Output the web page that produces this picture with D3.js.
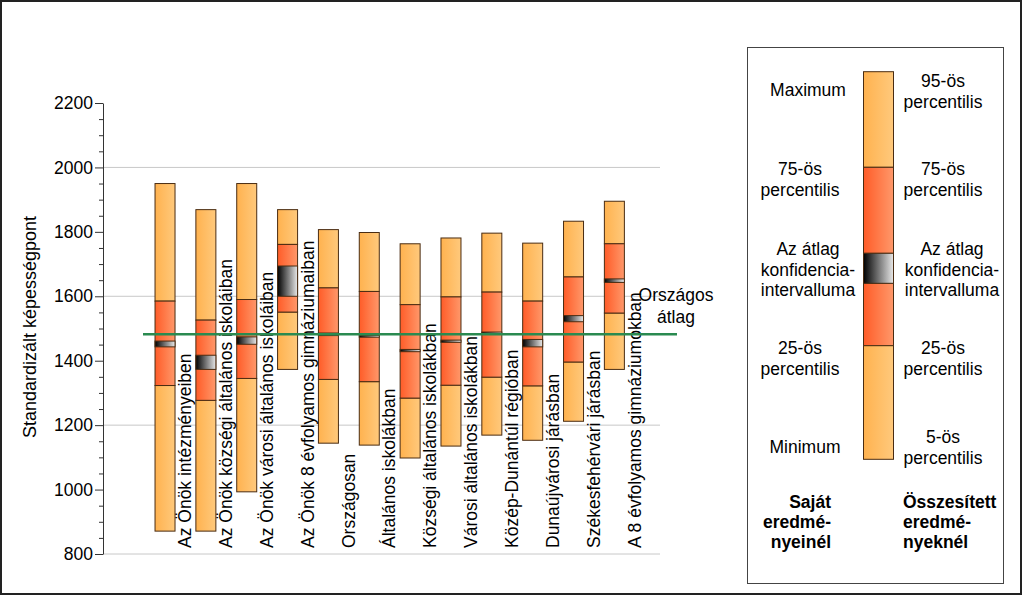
<!DOCTYPE html>
<html>
<head>
<meta charset="utf-8">
<script src="https://cdn.jsdelivr.net/npm/d3@7"></script>
<style>
  html, body { margin: 0; padding: 0; background: #fff; }
  svg { display: block; font-family: "Liberation Sans", Arial, sans-serif; }
</style>
</head>
<body>
<svg id="chart" width="1024" height="597"></svg>
<script>
// ---- data ----
const categories = [
  "Az Önök intézményeiben",
  "Az Önök községi általános iskoláiban",
  "Az Önök városi általános iskoláiban",
  "Az Önök 8 évfolyamos gimnáziumaiban",
  "Országosan",
  "Általános iskolákban",
  "Községi általános iskolákban",
  "Városi általános iskolákban",
  "Közép-Dunántúl régióban",
  "Dunaújvárosi járásban",
  "Székesfehérvári járásban",
  "A 8 évfolyamos gimnáziumokban"
];
const minVals = [871, 871, 993, 1373, 1144, 1138, 1098, 1135, 1169, 1153, 1212, 1373];
const p25Vals = [1323, 1277, 1345, 1551, 1342, 1335, 1284, 1324, 1349, 1322, 1396, 1548];
const p75Vals = [1585, 1526, 1590, 1761, 1626, 1615, 1574, 1598, 1613, 1585, 1660, 1763];
const maxVals = [1950, 1869, 1950, 1869, 1807, 1798, 1763, 1781, 1796, 1765, 1833, 1895];
const ciLow   = [1443, 1373, 1451, 1600, 1478, 1473, 1428, 1457, 1483, 1443, 1521, 1643];
const ciHigh  = [1461, 1417, 1474, 1694, 1486, 1479, 1435, 1464, 1489, 1466, 1540, 1654];
const nationalMean = 1482;
const majorTicks = [800, 1000, 1200, 1400, 1600, 1800, 2000, 2200];
const gridTicks = [800, 1200, 1600, 2000];
const yTitle = "Standardizált képességpont";
const meanLabel = ["Országos", "átlag"];
const legendLeft = [
  {lines: ["Maximum"], y: 96, x: 808},
  {lines: ["75-ös", "percentilis"], y: 175, x: 800},
  {lines: ["Az átlag", "konfidencia-", "intervalluma"], y: 255, x: 808},
  {lines: ["25-ös", "percentilis"], y: 354, x: 800},
  {lines: ["Minimum"], y: 453, x: 805}
];
const legendRight = [
  {lines: ["95-ös", "percentilis"], y: 87, x: 943},
  {lines: ["75-ös", "percentilis"], y: 175, x: 943},
  {lines: ["Az átlag", "konfidencia-", "intervalluma"], y: 255, x: 952},
  {lines: ["25-ös", "percentilis"], y: 354, x: 943},
  {lines: ["5-ös", "percentilis"], y: 443, x: 943}
];
const legendBoldLeft = ["Saját", "eredmé-", "nyeinél"];
const legendBoldRight = ["Összesített", "eredmé-", "nyeknél"];

// ---- setup ----
const svg = d3.select("#chart");
const FONT = 17.5;

const defs = svg.append("defs");
function grad(id, c0, c1) {
  const g = defs.append("linearGradient").attr("id", id)
    .attr("x1", "0%").attr("x2", "100%").attr("y1", "0%").attr("y2", "0%");
  g.append("stop").attr("offset", "0%").attr("stop-color", c0);
  g.append("stop").attr("offset", "100%").attr("stop-color", c1);
}
grad("gLight", "#ffb24f", "#ffc97c");
grad("gRed", "#ff5c28", "#ff986a");
grad("gCI", "#000000", "#e8e8e8");

// outer frame
svg.append("rect").attr("x", 1).attr("y", 1).attr("width", 1020).attr("height", 593)
  .attr("fill", "none").attr("stroke", "#222").attr("stroke-width", 2);

const y = d3.scaleLinear().domain([800, 2200]).range([554, 103]);
const x = d3.scaleBand().domain(categories).range([144.6, 634.8]).paddingInner(0.51).paddingOuter(0.255);
const bw = 20;
const cx = d => x(d) + x.bandwidth() / 2;

// gridlines
svg.append("g").selectAll("line").data(gridTicks).join("line")
  .attr("x1", 103).attr("x2", 660)
  .attr("y1", d => y(d)).attr("y2", d => y(d))
  .attr("stroke", "#c8c8c8").attr("stroke-width", 1);

// axis
const axisG = svg.append("g").attr("transform", "translate(103,0)");
axisG.call(d3.axisLeft(y).tickValues(d3.range(800, 2201, 50)).tickSize(4).tickSizeOuter(0).tickFormat(""));
axisG.selectAll(".tick").filter(d => d % 200 === 0).remove();
const axisMajor = svg.append("g").attr("transform", "translate(103,0)");
axisMajor.call(d3.axisLeft(y).tickValues(majorTicks).tickSize(8).tickSizeOuter(0).tickPadding(2).tickFormat(d3.format("d")));
axisMajor.select(".domain").remove();
svg.selectAll(".domain").attr("stroke", "#333");
svg.selectAll(".tick line").attr("stroke", "#333");
axisMajor.selectAll("text").attr("font-size", FONT).attr("fill", "#000")
  .attr("font-family", "Liberation Sans, Arial, sans-serif");

// y title
svg.append("text")
  .attr("transform", `translate(30,${327}) rotate(-90)`)
  .attr("text-anchor", "middle").attr("dy", "0.35em")
  .attr("font-size", 18).text(yTitle);

// bars
const rows = categories.map((c, i) => ({
  c, min: minVals[i], p25: p25Vals[i], p75: p75Vals[i], max: maxVals[i], lo: ciLow[i], hi: ciHigh[i]
}));
const STROKE = "#4a2c12";
const bars = svg.append("g").selectAll("g").data(rows).join("g");
function seg(sel, a, b, fill) {
  sel.append("rect")
    .attr("x", d => cx(d.c) - bw / 2).attr("width", bw)
    .attr("y", d => y(b(d))).attr("height", d => Math.max(1, y(a(d)) - y(b(d))))
    .attr("fill", fill).attr("stroke", STROKE).attr("stroke-width", 1);
}
seg(bars, d => d.min, d => d.p25, "url(#gLight)");
seg(bars, d => d.p75, d => d.max, "url(#gLight)");
seg(bars, d => d.p25, d => d.p75, "url(#gRed)");
seg(bars, d => d.lo, d => d.hi, "url(#gCI)");

// category labels
svg.append("g").selectAll("text").data(categories).join("text")
  .attr("transform", d => `translate(${cx(d) + 20},548) rotate(-90)`)
  .attr("dy", "0.35em").attr("text-anchor", "start")
  .attr("font-size", FONT).attr("fill", "#000").text(d => d);

// national mean line
svg.append("line")
  .attr("x1", 143).attr("x2", 677)
  .attr("y1", y(nationalMean)).attr("y2", y(nationalMean))
  .attr("stroke", "#2a8a50").attr("stroke-width", 2.5);
svg.append("g").selectAll("text").data(meanLabel).join("text")
  .attr("x", 676).attr("y", (d, i) => 301 + i * 22)
  .attr("text-anchor", "middle").attr("font-size", FONT).text(d => d);

// legend
svg.append("rect").attr("x", 747.5).attr("y", 47.5).attr("width", 256).attr("height", 536)
  .attr("fill", "#fff").attr("stroke", "#444").attr("stroke-width", 1);
const lg = svg.append("g");
const legSegs = [
  {y0: 71.7, y1: 167.3, f: "url(#gLight)"},
  {y0: 167.3, y1: 253.3, f: "url(#gRed)"},
  {y0: 283.3, y1: 345.7, f: "url(#gRed)"},
  {y0: 345.7, y1: 459.3, f: "url(#gLight)"},
  {y0: 253.3, y1: 283.3, f: "url(#gCI)"}
];
lg.selectAll("rect").data(legSegs).join("rect")
  .attr("x", 863.5).attr("width", 30)
  .attr("y", d => d.y0).attr("height", d => d.y1 - d.y0)
  .attr("fill", d => d.f).attr("stroke", STROKE).attr("stroke-width", 1);

function legendText(items) {
  items.forEach(it => {
    it.lines.forEach((l, i) => {
      lg.append("text").attr("x", it.x).attr("y", it.y + i * 20.5)
        .attr("text-anchor", "middle").attr("font-size", FONT).text(l);
    });
  });
}
legendText(legendLeft);
legendText(legendRight);
legendBoldLeft.forEach((l, i) => {
  lg.append("text").attr("x", 831).attr("y", 508 + i * 20)
    .attr("text-anchor", "end").attr("font-size", FONT).attr("font-weight", "bold").text(l);
});
legendBoldRight.forEach((l, i) => {
  lg.append("text").attr("x", 903).attr("y", 508 + i * 20)
    .attr("text-anchor", "start").attr("font-size", FONT).attr("font-weight", "bold").text(l);
});
</script>
</body>
</html>
